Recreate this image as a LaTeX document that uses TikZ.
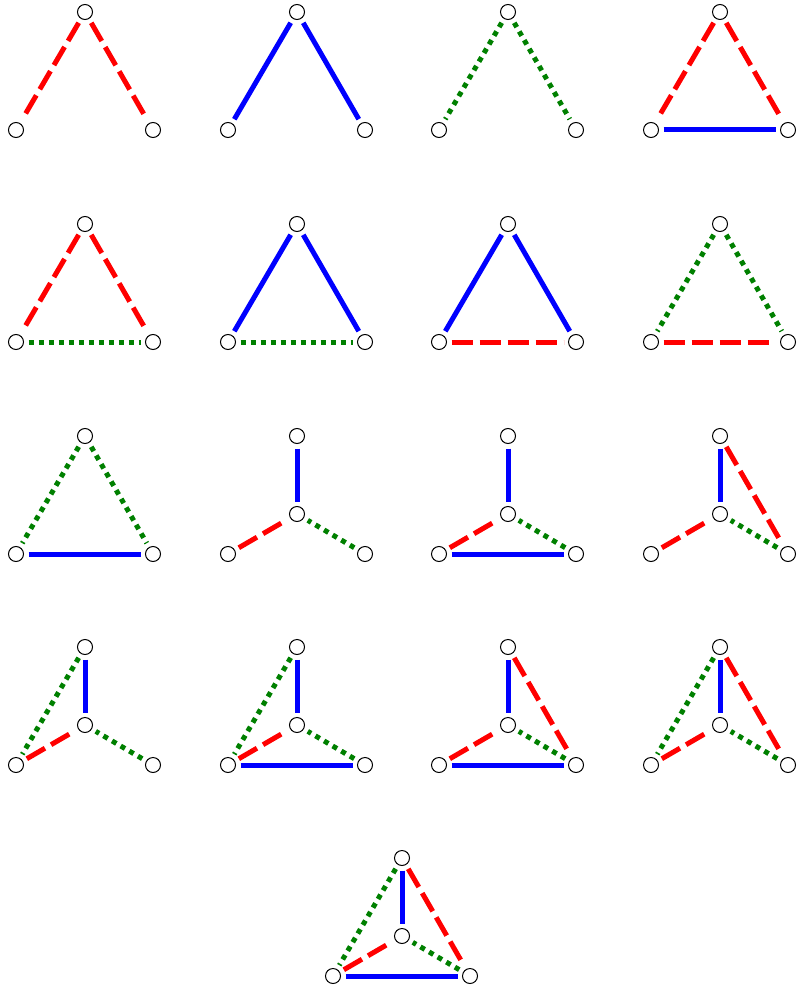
\documentclass[tikz,border=0pt]{standalone}
\tikzset{
 vtx/.style={circle,draw=black,line width=1pt,fill=white,minimum size=15pt,inner sep=0pt,outer sep=0pt},
 edg/.style={line width=5pt,shorten <=5pt,shorten >=5pt},
 R/.style={edg,red,dash pattern=on 21pt off 7pt},
 B/.style={edg,blue},
 G/.style={edg,green!50!black,dash pattern=on 5pt off 5pt},
}
\newcommand\tri[3]{%
 \node[vtx] (#1t) at (#2,#3) {};
 \node[vtx] (#1l) at (#2-69,#3+118) {};
 \node[vtx] (#1r) at (#2+68,#3+118) {};}
\newcommand\triC[3]{\tri{#1}{#2}{#3}%
 \node[vtx] (#1c) at (#2,#3+78) {};}
\begin{document}
\begin{tikzpicture}[x=1pt,y=-1pt]
\useasboundingbox (0,0) rectangle (800,992);
% row 1
\tri{a}{85}{12}
\draw[R] (at)--(al); \draw[R] (at)--(ar);
\tri{b}{297}{12}
\draw[B] (bt)--(bl); \draw[B] (bt)--(br);
\tri{c}{508}{12}
\draw[G] (ct)--(cl); \draw[G] (ct)--(cr);
\tri{d}{720}{12}
\draw[R] (dt)--(dl); \draw[R] (dt)--(dr); \draw[B] (dl)--(dr);
% row 2
\tri{e}{85}{224}
\draw[R] (et)--(el); \draw[R] (et)--(er); \draw[G] (el)--(er);
\tri{f}{297}{224}
\draw[B] (ft)--(fl); \draw[B] (ft)--(fr); \draw[G] (fl)--(fr);
\tri{g}{508}{224}
\draw[B] (gt)--(gl); \draw[B] (gt)--(gr); \draw[R] (gl)--(gr);
\tri{h}{720}{224}
\draw[G] (ht)--(hl); \draw[G] (ht)--(hr); \draw[R] (hl)--(hr);
% row 3
\tri{i}{85}{436}
\draw[G] (it)--(il); \draw[G] (it)--(ir); \draw[B] (il)--(ir);
\triC{j}{297}{436}
\draw[B] (jt)--(jc); \draw[R] (jl)--(jc); \draw[G] (jr)--(jc);
\triC{k}{508}{436}
\draw[B] (kt)--(kc); \draw[R] (kl)--(kc); \draw[G] (kr)--(kc); \draw[B] (kl)--(kr);
\triC{m}{720}{436}
\draw[B] (mt)--(mc); \draw[R] (ml)--(mc); \draw[G] (mr)--(mc); \draw[R] (mt)--(mr);
% row 4
\triC{n}{85}{647}
\draw[B] (nt)--(nc); \draw[R] (nl)--(nc); \draw[G] (nr)--(nc); \draw[G] (nt)--(nl);
\triC{o}{297}{647}
\draw[B] (ot)--(oc); \draw[R] (ol)--(oc); \draw[G] (or)--(oc); \draw[G] (ot)--(ol); \draw[B] (ol)--(or);
\triC{p}{508}{647}
\draw[B] (pt)--(pc); \draw[R] (pl)--(pc); \draw[G] (pr)--(pc); \draw[R] (pt)--(pr); \draw[B] (pl)--(pr);
\triC{q}{720}{647}
\draw[B] (qt)--(qc); \draw[R] (ql)--(qc); \draw[G] (qr)--(qc); \draw[G] (qt)--(ql); \draw[R] (qt)--(qr);
% row 5
\triC{s}{402}{858}
\draw[B] (st)--(sc); \draw[R] (sl)--(sc); \draw[G] (sr)--(sc); \draw[G] (st)--(sl); \draw[R] (st)--(sr); \draw[B] (sl)--(sr);
\end{tikzpicture}
\end{document}
